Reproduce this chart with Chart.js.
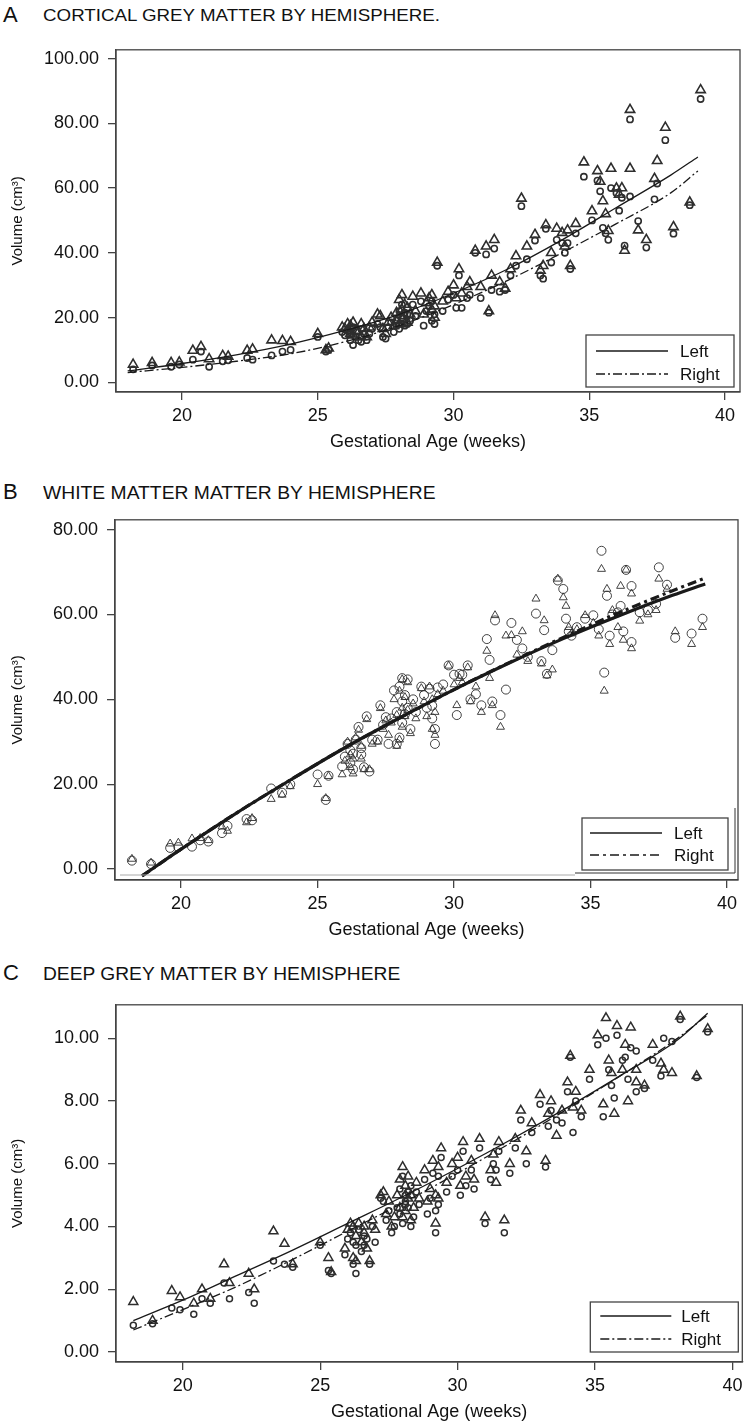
<!DOCTYPE html>
<html>
<head>
<meta charset="utf-8">
<script src="https://cdn.jsdelivr.net/npm/chart.js@4.4.0/dist/chart.umd.min.js"></script>
<style>
body{margin:0;width:749px;height:1423px;overflow:hidden;background:#fff;font-family:"Liberation Sans",Arial,sans-serif;color:#111;position:relative}
.letter{position:absolute;left:3px;font-size:22px;line-height:1}
.title{position:absolute;left:43px;white-space:nowrap;line-height:1;transform-origin:0 50%}
canvas{position:absolute;left:0}
</style>
</head>
<body>
<div class="letter" style="top:4px">A</div>
<div class="title" data-w="397" style="top:7px;font-size:17px">CORTICAL GREY MATTER BY HEMISPHERE.</div>
<div class="letter" style="top:481px">B</div>
<div class="title" data-w="392" style="top:483px;font-size:19px">WHITE MATTER MATTER BY HEMISPHERE</div>
<div class="letter" style="top:962px">C</div>
<div class="title" data-w="357" style="top:964px;font-size:19px">DEEP GREY MATTER BY HEMISPHERE</div>

<canvas id="cA" width="749" height="427" style="top:30px"></canvas>
<canvas id="cB" width="749" height="445" style="top:500px"></canvas>
<canvas id="cC" width="749" height="442" style="top:985px"></canvas>

<script>
// gestational age of each scan (weeks), shared by all three panels
var ages = [
  18.2, 18.9, 19.6, 19.9, 20.4, 20.7, 21.0, 21.5, 21.7, 22.4, 22.6, 23.3, 23.7, 24.0, 25.0, 25.3, 25.4,
  25.9, 26.0, 26.1, 26.2, 26.2, 26.3, 26.3, 26.4, 26.5, 26.6, 26.6, 26.7, 26.8, 26.9, 27.0, 27.2,
  27.3, 27.4, 27.5, 27.6, 27.7, 27.8, 27.9, 27.9, 28.0, 28.0, 28.1, 28.1, 28.1, 28.2, 28.2, 28.3, 28.3, 28.4,
  28.5, 28.6, 28.8, 28.9, 29.0, 29.1, 29.2, 29.2, 29.3, 29.3, 29.4, 29.6, 29.8, 30.0, 30.1, 30.2, 30.3,
  30.5, 30.6, 30.8, 31.0, 31.2, 31.3, 31.4, 31.5, 31.7, 31.9, 32.1, 32.3, 32.5, 32.7, 33.0, 33.2,
  33.3, 33.4, 33.6, 33.8, 34.0, 34.1, 34.2, 34.3, 34.5, 34.8, 35.1, 35.3, 35.4, 35.5, 35.6, 35.7,
  35.8, 36.0, 36.1, 36.2, 36.3, 36.5, 36.5, 36.8, 37.1, 37.4, 37.5, 37.8, 38.1, 38.7, 39.1
];

// A: cortical grey matter (cm3)
var cortLeft = [
  5.5, 6.0, 6.0, 6.2, 9.8, 11.0, 7.2, 8.2, 8.0, 9.8, 10.2, 13.0, 12.8, 12.5, 15.0, 10.0, 10.5,
  17.0, 16.5, 18.0, 15.0, 17.5, 14.5, 18.5, 16.0, 15.5, 18.0, 14.0, 16.5, 14.0, 17.0, 18.5, 21.0,
  20.5, 16.5, 15.0, 18.5, 20.0, 17.5, 19.0, 21.5, 25.5, 18.0, 27.0, 22.5, 19.5, 24.0, 20.5, 23.0, 18.5, 21.0,
  26.5, 22.0, 27.5, 21.0, 24.5, 26.0, 22.5, 27.0, 23.5, 20.0, 37.0, 25.0, 28.0, 30.0, 26.0, 35.0, 27.5,
  29.5, 31.0, 40.7, 29.5, 42.0, 22.0, 33.0, 44.0, 31.0, 29.0, 35.0, 39.0, 56.8, 42.0, 45.6, 34.5,
  36.0, 48.6, 40.0, 47.5, 46.2, 42.0, 47.0, 36.0, 49.0, 68.0, 52.9, 65.3, 62.0, 56.0, 52.0, 46.8,
  66.0, 59.9, 58.0, 60.0, 40.7, 84.2, 66.0, 47.0, 44.0, 62.9, 68.4, 78.7, 48.0, 55.6, 90.3
];
var cortRight = [
  4.0, 5.2, 4.8, 5.5, 7.0, 9.5, 4.8, 6.5, 6.8, 7.5, 7.0, 8.3, 9.5, 10.0, 14.0, 9.5, 10.0,
  15.5, 14.5, 16.0, 13.0, 15.5, 11.5, 17.0, 14.0, 13.0, 16.5, 12.5, 15.0, 13.0, 15.0, 16.5, 18.0,
  17.0, 14.0, 13.5, 17.0, 18.5, 15.5, 17.5, 19.0, 22.0, 16.5, 24.0, 20.0, 18.0, 21.5, 17.5, 21.0, 18.0, 19.0,
  24.0, 20.5, 25.0, 17.5, 22.0, 23.5, 19.0, 25.0, 21.0, 18.0, 36.0, 22.0, 25.5, 27.0, 23.0, 33.0, 23.0,
  26.0, 27.0, 40.0, 26.0, 39.5, 21.5, 28.5, 41.3, 28.0, 28.5, 33.0, 36.0, 54.4, 38.0, 43.8, 33.0,
  32.0, 47.4, 37.0, 44.0, 43.0, 40.0, 43.0, 35.0, 46.0, 63.5, 50.0, 62.3, 59.0, 47.7, 46.0, 44.0,
  60.0, 58.5, 53.0, 57.0, 42.2, 81.2, 57.4, 49.8, 41.6, 56.5, 61.4, 74.8, 45.9, 54.7, 87.5
];
var cortFitAges = [18.0, 20, 22, 24, 26, 28, 30, 32, 34, 36, 38, 39.0];
var cortFitLeft = [3.5, 5.8, 8.5, 11.8, 16.0, 21.0, 27.5, 35.0, 44.0, 54.0, 64.0, 69.6];
var cortFitRight = [3.0, 4.6, 6.5, 8.8, 12.5, 17.5, 24.0, 31.5, 40.0, 49.0, 58.5, 65.3];

// B: white matter (cm3)
var whiteLeft = [
  2.4, 1.5, 6.0, 6.2, 7.2, 7.3, 6.8, 10.0, 9.0, 11.0, 12.0, 16.5, 17.5, 19.5, 20.0, 16.7, 21.9,
  22.3, 25.5, 30.0, 24.0, 27.0, 22.5, 26.0, 31.0, 32.8, 26.0, 29.0, 23.5, 35.3, 23.5, 29.5, 30.0,
  37.9, 33.0, 35.0, 31.6, 34.5, 40.0, 36.3, 29.0, 42.0, 30.5, 38.0, 44.7, 33.5, 36.0, 40.5, 44.0, 37.5, 32.0,
  39.0, 35.5, 42.6, 39.5, 36.0, 43.0, 40.0, 33.0, 31.6, 37.0, 41.2, 42.0, 47.9, 43.5, 38.6, 45.0, 44.0,
  47.5, 39.5, 43.0, 37.0, 51.4, 45.0, 38.6, 59.8, 33.5, 55.0, 55.1, 50.5, 56.0, 49.0, 63.7, 48.4,
  58.6, 45.6, 47.0, 68.4, 64.0, 62.0, 57.0, 55.5, 56.5, 59.8, 58.0, 55.0, 70.7, 42.0, 66.0, 53.0,
  61.0, 57.0, 66.7, 54.0, 70.5, 64.9, 52.0, 58.5, 60.0, 61.0, 68.4, 66.0, 56.0, 53.0, 57.0
];
var whiteRight = [
  2.0, 1.2, 5.0, 5.2, 5.3, 6.8, 6.5, 8.5, 10.2, 11.8, 11.5, 19.0, 18.0, 20.0, 22.3, 16.3, 22.0,
  24.2, 26.5, 29.5, 25.0, 28.0, 23.5, 27.2, 30.5, 33.5, 27.0, 28.5, 24.0, 36.0, 23.0, 30.5, 30.5,
  38.6, 34.0, 35.8, 29.5, 35.5, 42.1, 37.0, 29.5, 43.0, 31.0, 39.5, 45.0, 34.5, 36.5, 41.0, 44.7, 38.0, 33.0,
  40.0, 37.0, 43.0, 41.0, 38.0, 42.5, 38.5, 35.5, 33.0, 29.5, 42.8, 43.5, 48.0, 45.8, 36.3, 46.0, 45.8,
  48.0, 40.0, 41.2, 38.6, 54.2, 49.3, 39.5, 58.6, 36.3, 42.3, 58.0, 54.0, 52.0, 50.0, 60.2, 49.0,
  56.3, 46.0, 51.6, 68.0, 66.0, 59.0, 56.0, 55.0, 57.0, 59.0, 59.8, 56.5, 75.0, 46.3, 64.4, 55.0,
  60.0, 60.5, 62.0, 56.0, 70.5, 66.7, 53.5, 60.5, 61.0, 62.5, 71.1, 67.0, 54.5, 55.5, 59.0
];
var whiteFitAges = [18.57, 20, 22, 24, 26, 28, 30, 32, 34, 36, 38, 39.2];
var whiteFitLeft = [-1.6, 4.7, 13.1, 21.0, 28.6, 35.6, 42.3, 48.5, 54.3, 59.6, 64.5, 67.2];
var whiteFitRight = [-1.6, 4.7, 13.1, 21.0, 28.6, 35.6, 42.3, 48.6, 54.6, 60.3, 65.6, 68.6];

// C: deep grey matter (cm3)
var deepLeft = [
  1.6, 1.0, 1.95, 1.75, 1.55, 2.0, 1.7, 2.8, 2.2, 2.5, 2.0, 3.85, 3.45, 2.8, 3.5, 3.0, 2.55,
  3.3, 3.9, 4.1, 3.0, 4.0, 2.9, 3.7, 4.1, 3.5, 4.0, 3.8, 3.3, 2.9, 4.2, 3.9, 5.0,
  5.1, 4.4, 4.8, 4.0, 4.3, 5.0, 4.6, 5.5, 5.9, 4.3, 5.0, 4.5, 5.3, 4.9, 5.6, 4.2, 5.0, 4.6,
  5.4, 4.9, 5.8, 4.8, 5.2, 6.1, 5.0, 4.1, 5.9, 4.9, 6.5, 5.4, 6.0, 6.2, 5.3, 6.7, 5.6,
  6.1, 5.5, 6.8, 4.3, 5.8, 6.3, 5.4, 6.7, 4.2, 6.0, 6.8, 7.7, 6.4, 7.3, 8.2, 6.1,
  7.6, 8.0, 6.9, 7.7, 8.6, 9.45, 7.8, 8.3, 7.7, 9.0, 10.1, 7.9, 10.65, 9.3, 8.9, 7.6,
  10.4, 9.0, 9.8, 8.0, 10.35, 9.0, 8.6, 8.5, 9.8, 9.2, 9.0, 8.9, 10.7, 8.8, 10.3
];
var deepRight = [
  0.85, 0.9, 1.4, 1.35, 1.2, 1.7, 1.55, 2.2, 1.7, 1.9, 1.55, 2.9, 2.8, 2.7, 3.4, 2.6, 2.5,
  3.1, 3.6, 3.8, 2.8, 3.5, 2.5, 3.4, 3.9, 3.2, 3.7, 3.4, 3.6, 2.8, 4.0, 3.5, 4.9,
  4.8, 4.2, 4.5, 3.8, 4.0, 4.6, 4.4, 5.2, 5.6, 4.1, 4.8, 4.7, 5.0, 4.6, 5.1, 4.0, 5.3, 4.3,
  5.1, 4.7, 5.5, 4.4, 4.9, 5.7, 4.5, 3.8, 5.6, 4.7, 6.2, 5.1, 5.6, 5.8, 5.0, 6.4, 5.3,
  5.8, 5.2, 6.5, 4.1, 5.5, 6.0, 5.8, 6.4, 3.8, 5.7, 6.5, 7.4, 6.0, 7.0, 7.9, 5.9,
  7.2, 7.7, 7.4, 7.3, 8.3, 9.4, 7.0, 8.0, 7.5, 8.7, 9.8, 7.5, 10.0, 9.0, 8.5, 8.1,
  10.1, 9.3, 9.4, 8.7, 9.7, 9.6, 8.3, 8.4, 9.3, 8.8, 10.0, 9.9, 10.6, 8.75, 10.2
];
var deepFitAges = [18.2, 20, 22, 24, 26, 28, 30, 32, 34, 36, 38, 39.1];
var deepFitLeft = [1.0, 1.65, 2.45, 3.25, 4.1, 4.95, 5.85, 6.8, 7.8, 8.85, 9.95, 10.8];
var deepFitRight = [0.7, 1.35, 2.1, 2.95, 3.85, 4.75, 5.7, 6.7, 7.75, 8.85, 10.0, 10.75];

var xTicks = [20, 25, 30, 35, 40];
var yTicksA = [0, 20, 40, 60, 80, 100];
var yTicksB = [0, 20, 40, 60, 80];
var yTicksC = [0, 2, 4, 6, 8, 10];

var FONT = '"Liberation Sans", Arial, sans-serif';
var INK = '#444';

function pts(xs, ys) {
    return xs.map(function (x, i) { return { x: x, y: ys[i] }; });
}

// plot frame + legend box drawn inside the plot area
var framePlugin = {
    id: 'frame',
    afterDraw: function (chart, args, o) {
        var ctx = chart.ctx, a = chart.chartArea;
        ctx.save();
        ctx.strokeStyle = INK;
        ctx.lineWidth = 1.3;
        ctx.strokeRect(a.left, a.top, a.right - a.left, a.bottom - a.top);

        if (o.shadow) {
            ctx.lineWidth = 1;
            ctx.strokeStyle = '#aaa';
            ctx.beginPath(); ctx.moveTo(a.left + 5, a.bottom - 5); ctx.lineTo(575, a.bottom - 5); ctx.stroke();
            ctx.strokeStyle = '#333';
            ctx.beginPath(); ctx.moveTo(575, a.bottom - 7); ctx.lineTo(a.right - 3, a.bottom - 7);
            ctx.lineTo(a.right - 3, a.bottom - 72); ctx.stroke();
        }

        var L = o.legend;
        var bx = a.right - L.right - L.w, by = a.bottom - L.bottom - L.h;
        ctx.fillStyle = '#fff';
        ctx.fillRect(bx, by, L.w, L.h);
        ctx.strokeStyle = INK;
        ctx.lineWidth = 1.3;
        ctx.strokeRect(bx, by, L.w, L.h);
        var fits = chart.data.datasets.filter(function (d) { return d.fit; });
        fits.forEach(function (d, i) {
            var y = by + L.rows[i];
            ctx.strokeStyle = '#1a1a1a';
            ctx.lineWidth = 1.4;
            ctx.setLineDash(d.borderDash || []);
            ctx.beginPath(); ctx.moveTo(bx + L.x0, y); ctx.lineTo(bx + L.x1, y); ctx.stroke();
            ctx.setLineDash([]);
            ctx.fillStyle = '#111';
            ctx.font = '17px ' + FONT;
            ctx.textBaseline = 'middle';
            ctx.fillText(d.label, bx + L.tx, y + 1);
        });
        ctx.restore();
    }
};

function panel(id, o) {
    var fitStyle = { showLine: true, pointRadius: 0, borderColor: '#1a1a1a', borderWidth: o.lw, cubicInterpolationMode: 'monotone', fit: true };
    new Chart(document.getElementById(id), {
        type: 'scatter',
        data: {
            datasets: [
                Object.assign({ label: 'Left', data: pts(o.fitAges, o.fitLeft) }, fitStyle),
                Object.assign({ label: 'Right', data: pts(o.fitAges, o.fitRight), borderDash: o.dash }, fitStyle),
                { label: 'Left hemisphere', data: pts(ages, o.left), pointStyle: 'triangle', pointRadius: o.tri,
                  borderColor: '#2e2e2e', borderWidth: o.mw, backgroundColor: 'rgba(0,0,0,0)' },
                { label: 'Right hemisphere', data: pts(ages, o.right), pointStyle: 'circle', pointRadius: o.circ,
                  borderColor: '#2e2e2e', borderWidth: o.mw, backgroundColor: 'rgba(0,0,0,0)' }
            ]
        },
        options: {
            responsive: false,
            animation: false,
            layout: { padding: { top: o.padTop, right: o.padRight, left: 0, bottom: 0 } },
            plugins: { legend: { display: false }, tooltip: { enabled: false }, frame: o.frame },
            scales: {
                x: {
                    type: 'linear', min: o.xMin, max: o.xMax,
                    afterBuildTicks: function (s) { s.ticks = xTicks.map(function (v) { return { value: v }; }); },
                    afterFit: function (s) { s.height = 65; },
                    grid: { drawOnChartArea: false, drawTicks: true, tickLength: 8, color: INK, lineWidth: 1.3 },
                    border: { color: INK, width: 1.3 },
                    ticks: { font: { family: FONT, size: 18 }, color: '#111', padding: 5, maxRotation: 0 },
                    title: { display: true, text: 'Gestational Age (weeks)', font: { family: FONT, size: 18 }, color: '#111', padding: { top: 0, bottom: 4 } }
                },
                y: {
                    type: 'linear', min: o.yMin, max: o.yMax,
                    afterBuildTicks: function (s) { s.ticks = o.yTicks.map(function (v) { return { value: v }; }); },
                    afterFit: function (s) { s.width = o.yWidth; },
                    grid: { drawOnChartArea: false, drawTicks: true, tickLength: 8, color: INK, lineWidth: 1.3 },
                    border: { color: INK, width: 1.3 },
                    ticks: { font: { family: FONT, size: 18 }, color: '#111', padding: 9, callback: function (v) { return v.toFixed(2); } },
                    title: { display: true, text: 'Volume (cm³)', font: { family: FONT, size: 15 }, color: '#111', padding: { top: 9, bottom: 0 } }
                }
            }
        },
        plugins: [framePlugin]
    });
}

panel('cA', {
    left: cortLeft, right: cortRight, fitAges: cortFitAges, fitLeft: cortFitLeft, fitRight: cortFitRight,
    xMin: 17.57, xMax: 40.55, yMin: -3.0, yMax: 102.7, yTicks: yTicksA, yWidth: 116, padTop: 14, padRight: 9,
    lw: 1.3, dash: [9, 3, 2, 3], tri: 5.4, circ: 3.1, mw: 1.6,
    frame: { legend: { w: 148, h: 52, right: 6, bottom: 5, rows: [16, 39], x0: 10, x1: 82, tx: 94 } }
});
panel('cB', {
    left: whiteLeft, right: whiteRight, fitAges: whiteFitAges, fitLeft: whiteFitLeft, fitRight: whiteFitRight,
    xMin: 17.58, xMax: 40.4, yMin: -2.56, yMax: 82.3, yTicks: yTicksB, yWidth: 115, padTop: 15, padRight: 11,
    lw: 3.2, dash: [9, 4, 3, 4], tri: 4.6, circ: 4.5, mw: 0.9,
    frame: { shadow: true, legend: { w: 146, h: 52, right: 10, bottom: 10, rows: [15, 37], x0: 8, x1: 80, tx: 92 } }
});
panel('cC', {
    left: deepLeft, right: deepRight, fitAges: deepFitAges, fitLeft: deepFitLeft, fitRight: deepFitRight,
    xMin: 17.57, xMax: 40.36, yMin: -0.32, yMax: 11.07, yTicks: yTicksC, yWidth: 116, padTop: 16, padRight: 4,
    lw: 1.3, dash: [9, 3, 2, 3], tri: 5.2, circ: 3.0, mw: 1.5,
    frame: { legend: { w: 148, h: 50, right: 4, bottom: 10, rows: [14, 37], x0: 10, x1: 81, tx: 91 } }
});

// stretch / squeeze the panel headings to the widths they have in the figure
document.querySelectorAll('.title').forEach(function (el) {
    var target = +el.getAttribute('data-w');
    el.style.transform = 'scaleX(' + (target / el.offsetWidth).toFixed(3) + ')';
});
</script>
</body>
</html>
